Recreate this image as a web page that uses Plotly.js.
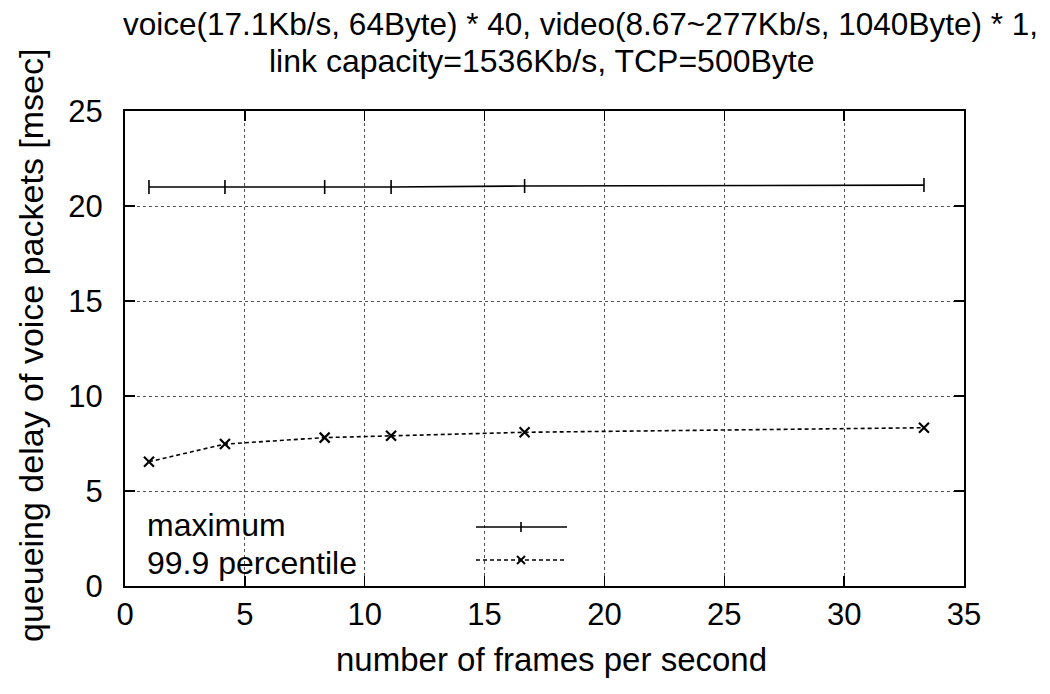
<!DOCTYPE html>
<html><head><meta charset="utf-8">
<script src="https://cdn.plot.ly/plotly-3.0.1.min.js"></script>
<style>html,body{margin:0;padding:0;background:#fff}#chart{width:1050px;height:694px}</style>
</head><body><div id="chart"></div>
<script>
const framesPerSecond = [1, 4.17, 8.33, 11.1, 16.67, 33.33];
const maximumDelay = [21.0, 21.0, 21.0, 21.0, 21.05, 21.1];
const percentileDelay = [6.54, 7.47, 7.81, 7.91, 8.09, 8.33];
const seriesNames = ['maximum', '99.9 percentile'];
const titleLines = ['voice(17.1Kb/s, 64Byte) * 40, video(8.67~277Kb/s, 1040Byte) * 1,', 'link capacity=1536Kb/s, TCP=500Byte'];
const xTitle = 'number of frames per second';
const yTitle = 'queueing delay of voice packets [msec]';
const xTicks = [0, 5, 10, 15, 20, 25, 30, 35];
const yTicks = [0, 5, 10, 15, 20, 25];

const font = 'Liberation Sans, Arial, sans-serif';
const traces = [
  {x: framesPerSecond, y: maximumDelay, name: seriesNames[0], mode: 'lines+markers',
   line: {color: '#000', width: 1.6}, marker: {symbol: 'line-ns-open', size: 10, color: '#000', line: {width: 1.6, color: '#000'}}},
  {x: framesPerSecond, y: percentileDelay, name: seriesNames[1], mode: 'lines+markers',
   line: {color: '#000', width: 1.6, dash: '4px,3px'}, marker: {symbol: 'x-thin-open', size: 10, color: '#000', line: {width: 2.2, color: '#000'}}}
];

const PL = 125, PR = 964, PT = 111, PB = 586;
const px = v => (v - PL) / (PR - PL);
const py = v => (PB - v) / (PB - PT);
const ly = [py(527), py(560)];
const shapes = [
  {type: 'line', xref: 'paper', yref: 'paper', x0: px(476), x1: px(567), y0: ly[0], y1: ly[0], line: {color: '#000', width: 1.6}},
  {type: 'line', xref: 'paper', yref: 'paper', x0: px(476), x1: px(567), y0: ly[1], y1: ly[1], line: {color: '#000', width: 1.6, dash: '4px,3px'}},
  {type: 'line', xref: 'paper', yref: 'paper', x0: px(521), x1: px(521), y0: py(522), y1: py(532), line: {color: '#000', width: 1.6}},
  {type: 'line', xref: 'paper', yref: 'paper', x0: px(517), x1: px(525), y0: py(556), y1: py(564), line: {color: '#000', width: 2}},
  {type: 'line', xref: 'paper', yref: 'paper', x0: px(517), x1: px(525), y0: py(564), y1: py(556), line: {color: '#000', width: 2}}
];
const f = s => ({family: font, size: s, color: '#000'});
const annotations = [
  {xref: 'paper', yref: 'paper', x: px(145), y: py(525), xanchor: 'left', yanchor: 'middle', text: seriesNames[0], showarrow: false, font: f(32)},
  {xref: 'paper', yref: 'paper', x: px(145), y: py(563), xanchor: 'left', yanchor: 'middle', text: seriesNames[1], showarrow: false, font: f(32)},
  {xref: 'paper', yref: 'paper', x: px(580), y: py(24), xanchor: 'center', yanchor: 'middle', text: titleLines[0], showarrow: false, font: f(31.5)},
  {xref: 'paper', yref: 'paper', x: px(542), y: py(61), xanchor: 'center', yanchor: 'middle', text: titleLines[1], showarrow: false, font: f(32)},
  {xref: 'paper', yref: 'paper', x: px(551), y: py(659), xanchor: 'center', yanchor: 'middle', text: xTitle, showarrow: false, font: f(33)},
  {xref: 'paper', yref: 'paper', x: px(31), y: py(346), xanchor: 'center', yanchor: 'middle', textangle: -90, text: yTitle, showarrow: false, font: f(34)}
];

const axisCommon = {
  showline: true, linecolor: '#000', linewidth: 2, mirror: 'allticks',
  ticks: 'inside', ticklen: 10, tickwidth: 1.5, tickcolor: '#000',
  showgrid: true, gridcolor: '#555', griddash: 'dot', gridwidth: 1,
  zeroline: false, tickfont: f(31)
};
const layout = {
  width: 1050, height: 694, paper_bgcolor: '#fff', plot_bgcolor: '#fff',
  margin: {l: PL, r: 1050 - PR, t: PT, b: 694 - PB},
  showlegend: false,
  xaxis: Object.assign({}, axisCommon, {range: [0, 35], tickvals: xTicks, ticktext: xTicks.map(String), ticklabelstandoff: 0}),
  yaxis: Object.assign({}, axisCommon, {range: [0, 25], tickvals: yTicks, ticktext: yTicks.map(String), ticklabelstandoff: 14}),
  shapes: shapes, annotations: annotations
};
Plotly.newPlot('chart', traces, layout, {displayModeBar: false, staticPlot: true});
</script></body></html>
